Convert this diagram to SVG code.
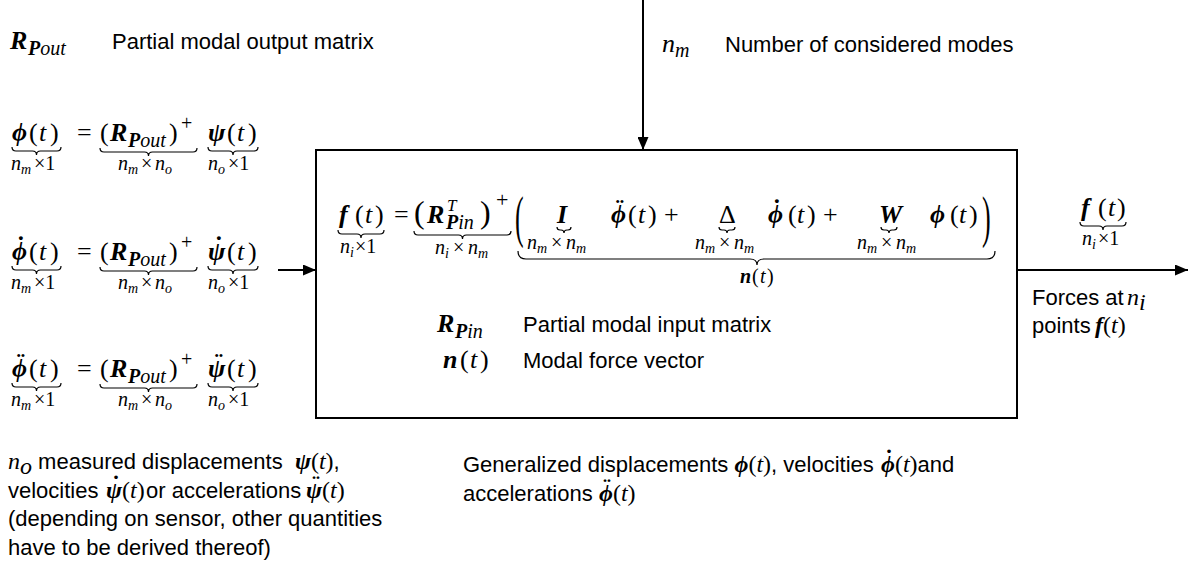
<svg xmlns="http://www.w3.org/2000/svg" width="1188" height="569" viewBox="0 0 1188 569">
<style>
.m{font-family:"Liberation Serif","DejaVu Serif",serif;font-size:26px;fill:#000}
.bi{font-weight:bold;font-style:italic}
.it{font-style:italic}
.s{font-size:20px}
.lab{font-size:20px}
.ls{font-size:14px}
.t{font-family:"Liberation Sans",Arial,sans-serif;font-size:22px;fill:#000;white-space:pre}
.im{font-family:"Liberation Serif","DejaVu Serif",serif;font-size:24px}
.br{fill:none;stroke:#000;stroke-width:1.2}
.ln{stroke:#000;stroke-width:2;fill:none}
.dot{font-weight:bold;font-style:normal}
</style>
<defs>
<marker id="ah" markerUnits="userSpaceOnUse" markerWidth="13" markerHeight="11" refX="13" refY="5.5" orient="auto"><path d="M0,0 L13,5.5 L0,11 z" fill="#000"/></marker>
</defs>

<g id="connectors">
<line class="ln" x1="643" y1="0" x2="643" y2="150" marker-end="url(#ah)"/>
<line class="ln" x1="278" y1="270" x2="316" y2="270" marker-end="url(#ah)"/>
<line class="ln" x1="1017" y1="270" x2="1188" y2="270" marker-end="url(#ah)"/>
</g>

<g id="legend-rpout">
<text class="m" y="49"><tspan x="10" class="bi">R</tspan><tspan x="28" dy="6" class="bi s">P</tspan><tspan class="it s">out</tspan></text>
<text class="t" x="112" y="49">Partial modal output matrix</text>
</g>

<g id="legend-nm">
<text class="m" y="52"><tspan x="662" class="it">n</tspan><tspan dy="5" class="it s">m</tspan></text>
<text class="t" x="725" y="52">Number of considered modes</text>
</g>

<g id="eq-displacement">
<text class="m" y="141"><tspan x="12" class="bi">ϕ</tspan><tspan x="29">(</tspan><tspan x="39" class="it">t</tspan><tspan x="50">)</tspan></text>
<text class="m" x="77" y="141">=</text>
<text class="m" y="141"><tspan x="100">(</tspan><tspan x="110" class="bi">R</tspan><tspan x="128" dy="6" class="bi s">P</tspan><tspan class="it s">out</tspan><tspan x="169" dy="-6">)</tspan><tspan x="181" dy="-11" class="s">+</tspan></text>
<text class="m" y="141"><tspan x="208" class="bi">ψ</tspan><tspan x="227">(</tspan><tspan x="237" class="it">t</tspan><tspan x="248">)</tspan></text>
<path class="br" d="M12 147 Q12 151 16 151 L32.5 151 Q36.5 151 36.5 155 Q36.5 151 40.5 151 L57 151 Q61 151 61 147"/>
<path class="br" d="M100 148 Q100 152 104 152 L144.5 152 Q148.5 152 148.5 156 Q148.5 152 152.5 152 L193 152 Q197 152 197 148"/>
<path class="br" d="M208 147 Q208 151 212 151 L229 151 Q233 151 233 155 Q233 151 237 151 L254 151 Q258 151 258 147"/>
<text class="m lab" y="170"><tspan x="11" class="it">n</tspan><tspan dy="4" class="it ls">m</tspan><tspan x="34" dy="-4">×1</tspan></text>
<text class="m lab" y="170"><tspan x="118" class="it">n</tspan><tspan dy="4" class="it ls">m</tspan><tspan x="141" dy="-4">×</tspan><tspan x="155" class="it">n</tspan><tspan dy="4" class="it ls">o</tspan></text>
<text class="m lab" y="170"><tspan x="208" class="it">n</tspan><tspan dy="4" class="it ls">o</tspan><tspan x="228" dy="-4">×1</tspan></text>
</g>

<g id="eq-velocity" transform="translate(0,119)">
<text class="m" y="141"><tspan x="16.5" dy="-6" class="dot">˙</tspan><tspan x="12" dy="6" class="bi">ϕ</tspan><tspan x="29">(</tspan><tspan x="39" class="it">t</tspan><tspan x="50">)</tspan></text>
<text class="m" x="77" y="141">=</text>
<text class="m" y="141"><tspan x="100">(</tspan><tspan x="110" class="bi">R</tspan><tspan x="128" dy="6" class="bi s">P</tspan><tspan class="it s">out</tspan><tspan x="169" dy="-6">)</tspan><tspan x="181" dy="-11" class="s">+</tspan></text>
<text class="m" y="141"><tspan x="214.5" dy="-6" class="dot">˙</tspan><tspan x="208" dy="6" class="bi">ψ</tspan><tspan x="227">(</tspan><tspan x="237" class="it">t</tspan><tspan x="248">)</tspan></text>
<path class="br" d="M12 147 Q12 151 16 151 L32.5 151 Q36.5 151 36.5 155 Q36.5 151 40.5 151 L57 151 Q61 151 61 147"/>
<path class="br" d="M100 148 Q100 152 104 152 L144.5 152 Q148.5 152 148.5 156 Q148.5 152 152.5 152 L193 152 Q197 152 197 148"/>
<path class="br" d="M208 147 Q208 151 212 151 L229 151 Q233 151 233 155 Q233 151 237 151 L254 151 Q258 151 258 147"/>
<text class="m lab" y="170"><tspan x="11" class="it">n</tspan><tspan dy="4" class="it ls">m</tspan><tspan x="34" dy="-4">×1</tspan></text>
<text class="m lab" y="170"><tspan x="118" class="it">n</tspan><tspan dy="4" class="it ls">m</tspan><tspan x="141" dy="-4">×</tspan><tspan x="155" class="it">n</tspan><tspan dy="4" class="it ls">o</tspan></text>
<text class="m lab" y="170"><tspan x="208" class="it">n</tspan><tspan dy="4" class="it ls">o</tspan><tspan x="228" dy="-4">×1</tspan></text>
</g>

<g id="eq-acceleration" transform="translate(0,236)">
<text class="m" y="141"><tspan x="16.5" dy="-6" class="dot">¨</tspan><tspan x="12" dy="6" class="bi">ϕ</tspan><tspan x="29">(</tspan><tspan x="39" class="it">t</tspan><tspan x="50">)</tspan></text>
<text class="m" x="77" y="141">=</text>
<text class="m" y="141"><tspan x="100">(</tspan><tspan x="110" class="bi">R</tspan><tspan x="128" dy="6" class="bi s">P</tspan><tspan class="it s">out</tspan><tspan x="169" dy="-6">)</tspan><tspan x="181" dy="-11" class="s">+</tspan></text>
<text class="m" y="141"><tspan x="214.5" dy="-6" class="dot">¨</tspan><tspan x="208" dy="6" class="bi">ψ</tspan><tspan x="227">(</tspan><tspan x="237" class="it">t</tspan><tspan x="248">)</tspan></text>
<path class="br" d="M12 147 Q12 151 16 151 L32.5 151 Q36.5 151 36.5 155 Q36.5 151 40.5 151 L57 151 Q61 151 61 147"/>
<path class="br" d="M100 148 Q100 152 104 152 L144.5 152 Q148.5 152 148.5 156 Q148.5 152 152.5 152 L193 152 Q197 152 197 148"/>
<path class="br" d="M208 147 Q208 151 212 151 L229 151 Q233 151 233 155 Q233 151 237 151 L254 151 Q258 151 258 147"/>
<text class="m lab" y="170"><tspan x="11" class="it">n</tspan><tspan dy="4" class="it ls">m</tspan><tspan x="34" dy="-4">×1</tspan></text>
<text class="m lab" y="170"><tspan x="118" class="it">n</tspan><tspan dy="4" class="it ls">m</tspan><tspan x="141" dy="-4">×</tspan><tspan x="155" class="it">n</tspan><tspan dy="4" class="it ls">o</tspan></text>
<text class="m lab" y="170"><tspan x="208" class="it">n</tspan><tspan dy="4" class="it ls">o</tspan><tspan x="228" dy="-4">×1</tspan></text>
</g>

<g id="block">
<rect x="316" y="150" width="701" height="268" fill="none" stroke="#000" stroke-width="2"/>
<text class="m" y="223"><tspan x="339" class="bi">f</tspan><tspan x="355">(</tspan><tspan x="365" class="it">t</tspan><tspan x="375">)</tspan></text>
<text class="m" x="394" y="223">=</text>
<text class="m" y="223"><tspan x="414" font-size="32">(</tspan><tspan x="427" class="bi">R</tspan><tspan x="447" dy="-12" class="it" font-size="17">T</tspan><tspan x="446" dy="18" class="bi s">P</tspan><tspan class="it s">in</tspan><tspan x="480" dy="-6" font-size="32">)</tspan><tspan x="496" dy="-16" font-size="22">+</tspan></text>
<path class="br" d="M338 230 Q338 234 342 234 L357 234 Q361 234 361 238 Q361 234 365 234 L380 234 Q384 234 384 230"/>
<path class="br" d="M414 231 Q414 235 418 235 L458.5 235 Q462.5 235 462.5 239 Q462.5 235 466.5 235 L507 235 Q511 235 511 231"/>
<text class="m lab" y="253"><tspan x="340" class="it">n</tspan><tspan dy="4" class="it ls">i</tspan><tspan x="355" dy="-4">×1</tspan></text>
<text class="m lab" y="254"><tspan x="435" class="it">n</tspan><tspan dy="4" class="it ls">i</tspan><tspan x="453" dy="-4">×</tspan><tspan x="468" class="it">n</tspan><tspan dy="4" class="it ls">m</tspan></text>
<text class="m" font-size="28" transform="translate(515,236) scale(1,2.2)">(</text>
<text class="m bi" x="557" y="223">I</text>
<path class="br" d="M557 227 Q557 230 560 230 L561 230 Q564 230 564 233 Q564 230 567 230 L568 230 Q571 230 571 227"/>
<text class="m lab" y="249"><tspan x="527" class="it">n</tspan><tspan dy="4" class="it ls">m</tspan><tspan x="551" dy="-4">×</tspan><tspan x="566" class="it">n</tspan><tspan dy="4" class="it ls">m</tspan></text>
<text class="m" y="223"><tspan x="615.5" dy="-6" class="dot">¨</tspan><tspan x="611" dy="6" class="bi">ϕ</tspan><tspan x="628">(</tspan><tspan x="638" class="it">t</tspan><tspan x="648">)</tspan><tspan x="664">+</tspan></text>
<text class="m" x="719" y="223">Δ</text>
<path class="br" d="M719 227 Q719 230 722 230 L724 230 Q727 230 727 233 Q727 230 730 230 L732 230 Q735 230 735 227"/>
<text class="m lab" y="249"><tspan x="695" class="it">n</tspan><tspan dy="4" class="it ls">m</tspan><tspan x="719" dy="-4">×</tspan><tspan x="734" class="it">n</tspan><tspan dy="4" class="it ls">m</tspan></text>
<text class="m" y="223"><tspan x="772.5" dy="-6" class="dot">˙</tspan><tspan x="768" dy="6" class="bi">ϕ</tspan><tspan x="788">(</tspan><tspan x="797" class="it">t</tspan><tspan x="807">)</tspan><tspan x="823">+</tspan></text>
<text class="m bi" x="879" y="223">W</text>
<path class="br" d="M881 227 Q881 230 884 230 L886 230 Q889 230 889 233 Q889 230 892 230 L894 230 Q897 230 897 227"/>
<text class="m lab" y="249"><tspan x="857" class="it">n</tspan><tspan dy="4" class="it ls">m</tspan><tspan x="881" dy="-4">×</tspan><tspan x="896" class="it">n</tspan><tspan dy="4" class="it ls">m</tspan></text>
<text class="m" y="223"><tspan x="930" class="bi">ϕ</tspan><tspan x="950">(</tspan><tspan x="959" class="it">t</tspan><tspan x="969">)</tspan></text>
<text class="m" font-size="28" transform="translate(982,236) scale(1,2.2)">)</text>
<path class="br" d="M518 251 Q518 259 526 259 L750 259 Q757 259 757 265 Q757 259 764 259 L987 259 Q995 259 995 251"/>
<text class="m lab" y="283"><tspan x="740" class="bi">n</tspan><tspan x="752">(</tspan><tspan x="760" class="it">t</tspan><tspan x="767">)</tspan></text>
<text class="m" y="332"><tspan x="437" class="bi">R</tspan><tspan x="455" dy="6" class="bi s">P</tspan><tspan class="it s">in</tspan></text>
<text class="t" x="523" y="332">Partial modal input matrix</text>
<text class="m" y="368"><tspan x="443" class="bi">n</tspan><tspan x="460">(</tspan><tspan x="470" class="it">t</tspan><tspan x="480">)</tspan></text>
<text class="t" x="523" y="368">Modal force vector</text>
</g>

<g id="output">
<text class="m" y="216"><tspan x="1081" class="bi">f</tspan><tspan x="1098">(</tspan><tspan x="1108" class="it">t</tspan><tspan x="1117">)</tspan></text>
<path class="br" d="M1080 222 Q1080 226 1084 226 L1099 226 Q1103 226 1103 230 Q1103 226 1107 226 L1122 226 Q1126 226 1126 222"/>
<text class="m lab" y="245"><tspan x="1082" class="it">n</tspan><tspan dy="4" class="it ls">i</tspan><tspan x="1098" dy="-4">×1</tspan></text>
<text class="t" y="305"><tspan x="1032">Forces at </tspan><tspan x="1127" class="im it">n</tspan><tspan dy="5" class="im it" font-size="17">i</tspan></text>
<text class="t" y="333"><tspan x="1032">points </tspan><tspan x="1095" class="im bi">f</tspan><tspan class="im">(</tspan><tspan class="im it">t</tspan><tspan class="im">)</tspan></text>
</g>

<g id="note-measured">
<text class="t" y="469"><tspan x="8" class="im it">n</tspan><tspan dy="5" class="im it" font-size="17">o</tspan><tspan dy="-5"> measured displacements  </tspan><tspan class="im bi">ψ</tspan><tspan class="im">(</tspan><tspan class="im it">t</tspan><tspan class="im">)</tspan><tspan>,</tspan></text>
<text class="t" y="498"><tspan x="8">velocities </tspan><tspan x="112" dy="-6" class="im dot">˙</tspan><tspan x="106" dy="6" class="im bi">ψ</tspan><tspan class="im">(</tspan><tspan class="im it">t</tspan><tspan class="im">)</tspan><tspan x="146">or accelerations  </tspan><tspan x="312" dy="-6" class="im dot">¨</tspan><tspan x="306" dy="6" class="im bi">ψ</tspan><tspan class="im">(</tspan><tspan class="im it">t</tspan><tspan class="im">)</tspan></text>
<text class="t" x="8" y="526">(depending on sensor, other quantities</text>
<text class="t" x="8" y="555">have to be derived thereof)</text>
</g>

<g id="note-generalized">
<text class="t" y="472"><tspan x="463">Generalized displacements </tspan><tspan class="im bi">ϕ</tspan><tspan class="im">(</tspan><tspan class="im it">t</tspan><tspan class="im">)</tspan><tspan>, velocities </tspan><tspan x="885" dy="-6" class="im dot">˙</tspan><tspan x="881" dy="6" class="im bi">ϕ</tspan><tspan class="im">(</tspan><tspan class="im it">t</tspan><tspan class="im">)</tspan><tspan>and</tspan></text>
<text class="t" y="501"><tspan x="463">accelerations </tspan><tspan x="603" dy="-6" class="im dot">¨</tspan><tspan x="599" dy="6" class="im bi">ϕ</tspan><tspan class="im">(</tspan><tspan class="im it">t</tspan><tspan class="im">)</tspan></text>
</g>
</svg>
